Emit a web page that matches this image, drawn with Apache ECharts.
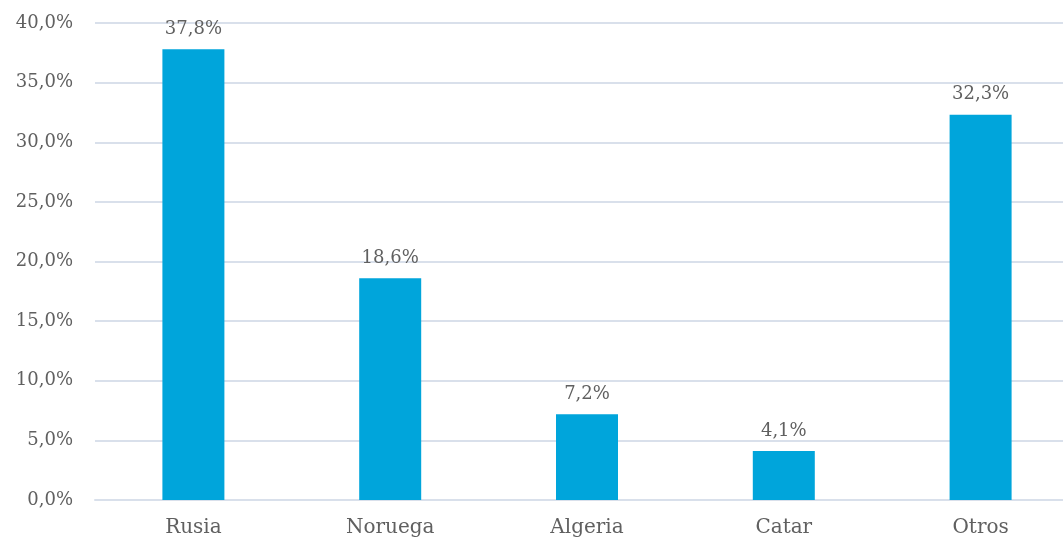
<!DOCTYPE html>
<html><head><meta charset="utf-8">
<script src="https://cdn.jsdelivr.net/npm/echarts@6/dist/echarts.min.js"></script>
<style>html,body{margin:0;padding:0;background:#fff;overflow:hidden}#c{width:1079px;height:542px}</style>
</head><body><div id="c"></div>
<script>
const categories = ['Rusia', 'Noruega', 'Algeria', 'Catar', 'Otros'];
const values = [37.8, 18.6, 7.2, 4.1, 32.3];
const yTicks = [0, 5, 10, 15, 20, 25, 30, 35, 40];
const fmt = v => v.toFixed(1).replace('.', ',') + '%';
const FONT = 'DejaVu Serif';
const chart = echarts.init(document.getElementById('c'));
chart.setOption({
  animation: false,
  grid: { left: 95, right: 0, top: 23, bottom: 42, containLabel: false },
  xAxis: {
    type: 'category', data: categories,
    axisLine: { show: true, lineStyle: { color: '#d9e0eb', width: 2 } },
    axisTick: { show: false },
    axisLabel: { color: '#606060', fontFamily: FONT, fontSize: 20, margin: 18 }
  },
  yAxis: {
    type: 'value', min: yTicks[0], max: yTicks[yTicks.length - 1], interval: 5,
    axisLine: { show: false }, axisTick: { show: false },
    splitLine: { lineStyle: { color: '#d9e0eb', width: 2 } },
    axisLabel: { color: '#606060', fontFamily: FONT, fontSize: 18, margin: 22, formatter: v => fmt(v) }
  },
  series: [{
    type: 'bar', data: values, barWidth: 62,
    itemStyle: { color: '#00a5db' },
    label: { show: true, position: 'top', distance: 11, color: '#606060', fontFamily: FONT, fontSize: 18, formatter: p => fmt(p.value) }
  }]
});
</script></body></html>
